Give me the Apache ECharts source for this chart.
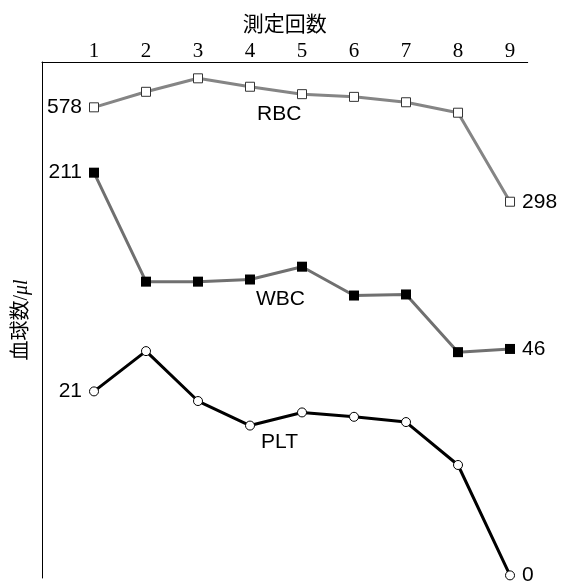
<!DOCTYPE html>
<html>
<head>
<meta charset="utf-8">
<script src="https://cdn.jsdelivr.net/npm/echarts@6/dist/echarts.min.js"></script>
<style>html,body{margin:0;padding:0;background:#fff}#c{width:564px;height:582px}</style>
</head>
<body>
<div id="c"></div>
<script>
const categories = [1, 2, 3, 4, 5, 6, 7, 8, 9];
const rbc = [578, 624, 664, 639, 617, 609, 593, 562, 298];
const wbc = [211, 109, 109, 111, 123, 96, 97, 43, 46];
const plt = [21, 25.6, 19.9, 17.1, 18.6, 18.1, 17.5, 12.6, 0];
const seriesNames = ['RBC', 'WBC', 'PLT'];
const xTitle = '測定回数';
const yTitle = '血球数/';

const chart = echarts.init(document.getElementById('c'), null, {renderer: 'canvas'});
const endLabels = (arr) => arr.map((v, i) => {
  const d = {value: [categories[i], v]};
  if (i === 0) d.label = {show: true, position: 'left', distance: 7};
  if (i === arr.length - 1) d.label = {show: true, position: 'right', distance: 7};
  return d;
});
const sans = '"Liberation Sans", Arial, sans-serif';
const numLabel = {fontFamily: sans, fontSize: 21, color: '#000', formatter: p => p.value[1]};
const serif = '"Liberation Serif", "Times New Roman", "Noto Sans CJK JP", serif';

chart.setOption({
  animation: false,
  backgroundColor: '#fff',
  grid: {left: 42, top: 62, width: 485.7, bottom: 4},
  xAxis: {
    type: 'value', position: 'top', min: 0, max: 9.34, interval: 1,
    axisLine: {show: true, onZero: false, lineStyle: {color: '#000', width: 1}},
    axisTick: {show: false}, splitLine: {show: false},
    axisLabel: {
      margin: 0, fontFamily: serif, fontSize: 21, color: '#000',
      showMaxLabel: false, showMinLabel: false,
      formatter: v => (categories.indexOf(v) >= 0 ? String(v) : '')
    },
    name: xTitle, nameLocation: 'middle', nameGap: 26,
    nameTextStyle: {fontFamily: serif, fontSize: 21, color: '#000'}
  },
  yAxis: [
    {type: 'value', min: -818, max: 712.4, position: 'left',
     axisLine: {show: true, onZero: false, lineStyle: {color: '#000', width: 1}},
     axisTick: {show: false}, axisLabel: {show: false}, splitLine: {show: false},
     name: '{a|' + yTitle + '}{b|μl}', nameLocation: 'middle', nameGap: 10, nameRotate: 90,
     nameTextStyle: {rich: {
       a: {fontFamily: serif, fontSize: 20, color: '#000'},
       b: {fontFamily: serif, fontSize: 20, fontStyle: 'italic', color: '#000'}
     }}},
    {type: 'value', min: -168.4, max: 314.6, show: false},
    {type: 'value', min: -0.3, max: 58.6, show: false}
  ],
  series: [
    {name: seriesNames[0], type: 'line', yAxisIndex: 0, data: endLabels(rbc),
     symbol: 'rect', symbolSize: 9,
     lineStyle: {color: '#858585', width: 3},
     itemStyle: {color: '#fff', borderColor: '#333', borderWidth: 1},
     label: numLabel, z: 3},
    {name: seriesNames[1], type: 'line', yAxisIndex: 1, data: endLabels(wbc),
     symbol: 'rect', symbolSize: 10,
     lineStyle: {color: '#707070', width: 3},
     itemStyle: {color: '#000', borderColor: '#000', borderWidth: 0},
     label: numLabel, z: 3},
    {name: seriesNames[2], type: 'line', yAxisIndex: 2, data: endLabels(plt),
     symbol: 'circle', symbolSize: 9,
     lineStyle: {color: '#000', width: 3},
     itemStyle: {color: '#fff', borderColor: '#000', borderWidth: 1},
     label: numLabel, z: 3}
  ],
  graphic: [
    {type: 'text', left: 257, top: 104, style: {text: seriesNames[0], font: '21px ' + sans, fill: '#000'}},
    {type: 'text', left: 256, top: 289, style: {text: seriesNames[1], font: '21px ' + sans, fill: '#000'}},
    {type: 'text', left: 261, top: 432, style: {text: seriesNames[2], font: '21px ' + sans, fill: '#000'}}
  ]
});
</script>
</body>
</html>
